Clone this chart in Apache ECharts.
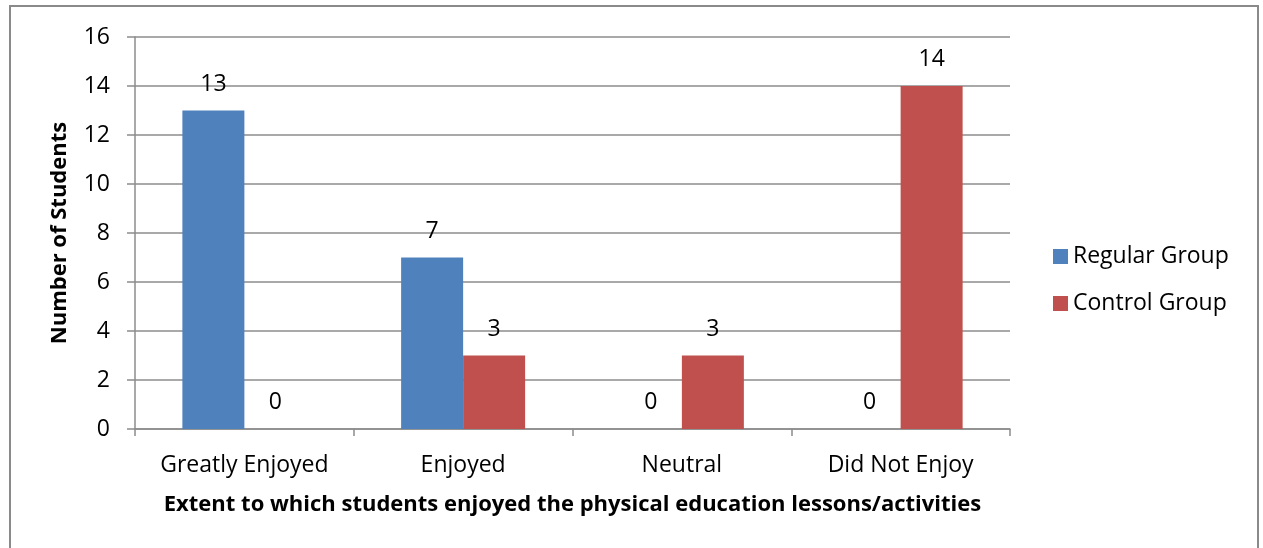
<!DOCTYPE html>
<html>
<head>
<meta charset="utf-8">
<script src="https://cdn.jsdelivr.net/npm/echarts@6/dist/echarts.min.js"></script>
<style>
html,body{margin:0;padding:0;background:#fff;}
#chart{width:1263px;height:548px;}
</style>
</head>
<body>
<div id="chart"></div>
<script>
const categories = ['Greatly Enjoyed', 'Enjoyed', 'Neutral', 'Did Not Enjoy'];
const regularGroup = [13, 7, 0, 0];
const controlGroup = [0, 3, 3, 14];
const seriesNames = ['Regular Group', 'Control Group'];
const yTicks = [0, 2, 4, 6, 8, 10, 12, 14, 16];

const FONT = '"Open Sans", sans-serif';
const chart = echarts.init(document.getElementById('chart'), null, {renderer: 'canvas'});
const labelStyle = {
  show: true, position: 'top', distance: 15,
  color: '#000', fontFamily: FONT, fontSize: 23
};
chart.setOption({
  animation: false,
  backgroundColor: '#fff',
  graphic: [{
    type: 'rect', silent: true,
    shape: {x: 10, y: 6, width: 1248, height: 600},
    style: {fill: 'none', stroke: '#8a8a8a', lineWidth: 2}
  }],
  grid: {left: 135, right: 253, top: 37, bottom: 119, containLabel: false},
  legend: {
    orient: 'vertical', left: 1048, top: 240,
    itemWidth: 15, itemHeight: 15, itemGap: 24, itemGap: 24,
    icon: 'rect',
    textStyle: {fontFamily: FONT, fontSize: 23, color: '#000'},
    data: seriesNames
  },
  xAxis: {
    type: 'category', data: categories,
    axisLine: {lineStyle: {color: '#8c8c8c', width: 1.5}},
    axisTick: {show: true, interval: 0, length: 7, lineStyle: {color: '#8c8c8c', width: 1.5}},
    axisLabel: {interval: 0, fontFamily: FONT, fontSize: 23, color: '#000', margin: 25},
    name: 'Extent to which students enjoyed the physical education lessons/activities',
    nameLocation: 'middle', nameGap: 65,
    nameTextStyle: {fontFamily: FONT, fontSize: 22, fontWeight: 'bold', color: '#000'}
  },
  yAxis: {
    type: 'value', min: yTicks[0], max: yTicks[yTicks.length - 1], interval: 2,
    axisLine: {show: true, lineStyle: {color: '#8c8c8c', width: 1.5}},
    axisTick: {show: true, length: 8, lineStyle: {color: '#8c8c8c', width: 1.5}},
    splitLine: {lineStyle: {color: '#8c8c8c', width: 1.5}},
    axisLabel: {fontFamily: FONT, fontSize: 23, color: '#000', margin: 25},
    name: 'Number of Students', nameLocation: 'middle', nameGap: 64,
    nameTextStyle: {fontFamily: FONT, fontSize: 22, fontWeight: 'bold', color: '#000'}
  },
  series: [
    {name: seriesNames[0], type: 'bar', data: regularGroup, barWidth: 62, barGap: '0%',
     itemStyle: {color: '#4F81BD'}, label: labelStyle},
    {name: seriesNames[1], type: 'bar', data: controlGroup, barWidth: 62, barGap: '0%',
     itemStyle: {color: '#C0504D'}, label: labelStyle}
  ]
});
</script>
</body>
</html>
